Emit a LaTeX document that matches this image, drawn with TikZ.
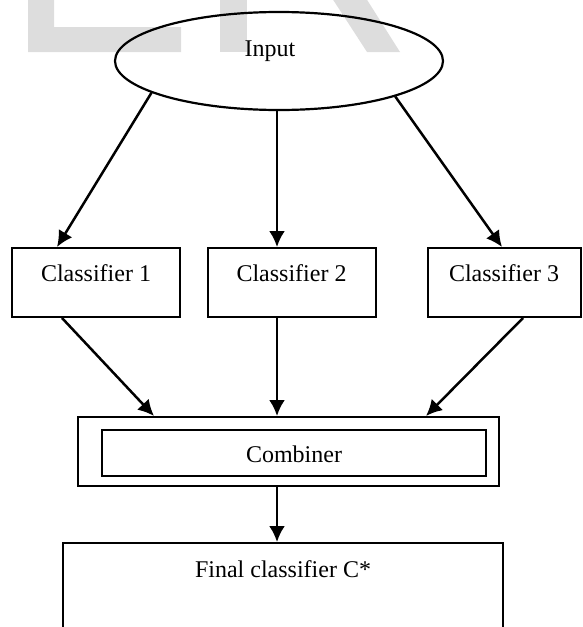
\documentclass[tikz,border=0pt]{standalone}
\usepackage{fontspec}
\setmainfont{Liberation Serif}
\usepackage{tikz}
\usetikzlibrary{arrows.meta,shapes.geometric}

\definecolor{wmgray}{RGB}{221,221,221}

\begin{document}
\begin{tikzpicture}[x=0.5pt, y=-0.5pt, >={Latex[length=8pt,width=8pt]},
		every node/.style={font=\fontsize{12}{14}\selectfont, inner sep=0pt},
		clbox/.style={draw, line width=1pt, minimum width=84pt, text height=16.5pt, text depth=18pt},
		link/.style={->, line width=1.25pt}]
		\clip (0,0) rectangle (583,627);
		\fill[wmgray] (28,-5) -- (54,-5) -- (54,27) -- (181,27) -- (181,52) -- (28,52) -- cycle;
		\fill[wmgray] (220,-5) rectangle (247,52);
		\fill[wmgray] (330,-5) -- (364,-5) -- (400,52) -- (367,52) -- cycle;
		
		\node[ellipse, draw, line width=1.1pt, minimum width=164pt, minimum height=49pt] (input) at (279,61) {};
		\node[anchor=base] (inputlbl) at (270,56) {Input};
		
		\node[clbox] (c1) at (96,282.5) {Classifier 1};
		\node[clbox] (c2) at (291.5,282.5) {Classifier 2};
		\node[clbox, minimum width=76.5pt] (c3) at (504,282.5) {Classifier 3};
		
		\node[draw, line width=1pt, minimum width=210.5pt, minimum height=34.5pt] (combout) at (288.5,451.5) {};
		\node[draw, line width=1pt, minimum width=192pt, text height=16pt, text depth=7pt] (comb) at (294,453) {Combiner};
		\node[draw, line width=1pt, minimum width=220pt, text height=17pt, text depth=41.5pt] (final) at (283,601.5) {Final classifier C*};
		
		\draw[link] (input.194.5) -- ([xshift=-19.5pt]c1.north);
		\draw[link] ([xshift=-1pt]input.south) -- ([xshift=-7.25pt]c2.north);
		\draw[link] (input.343) -- ([xshift=-1pt]c3.north);
		\draw[link] ([xshift=-17pt]c1.south) -- ([xshift=-67.25pt]combout.north);
		\draw[link] ([xshift=-7.25pt]c2.south) -- ([xshift=-5.75pt]combout.north);
		\draw[link] ([xshift=9.5pt]c3.south) -- ([xshift=68.75pt]combout.north);
		\draw[link] ([xshift=-5.75pt]combout.south) -- ([xshift=-3pt]final.north);
	\end{tikzpicture}
\end{document}
